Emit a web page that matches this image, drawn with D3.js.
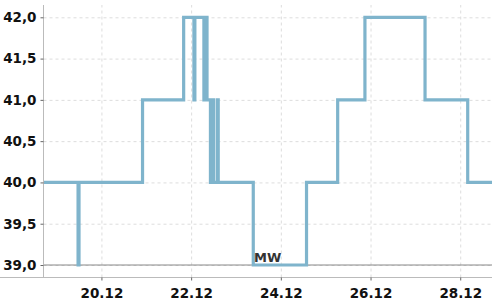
<!DOCTYPE html>
<html>
<head>
<meta charset="utf-8">
<script src="https://cdn.jsdelivr.net/npm/d3@7"></script>
<style>
  body { margin: 0; background: #fff; }
  svg { display: block; }
  .tick text { font-family: "DejaVu Sans", sans-serif; font-weight: bold; font-size: 13.5px; fill: #111; }
  .grid line { stroke: #ddd; stroke-dasharray: 3,3; }
  .grid .domain { display: none; }
</style>
</head>
<body>
<script>
// data
const times = [
  '2023-12-18T17:00', '2023-12-19T11:30', '2023-12-19T12:00', '2023-12-20T22:00',
  '2023-12-21T20:00', '2023-12-22T01:30', '2023-12-22T02:00', '2023-12-22T06:50',
  '2023-12-22T07:40', '2023-12-22T08:30', '2023-12-22T10:20', '2023-12-22T11:10',
  '2023-12-22T12:00', '2023-12-22T14:00', '2023-12-22T14:30', '2023-12-23T09:15',
  '2023-12-24T13:45', '2023-12-25T06:25', '2023-12-25T21:00', '2023-12-27T05:10',
  '2023-12-28T04:00', '2023-12-28T17:00',
];
const values = [
  40.0, 39.0, 40.0, 41.0,
  42.0, 41.0, 42.0, 41.0,
  42.0, 41.0, 40.0, 41.0,
  40.0, 41.0, 40.0, 39.0,
  40.0, 41.0, 42.0, 41.0,
  40.0, 40.0,
];
const xTickDates = ['2023-12-20', '2023-12-22', '2023-12-24', '2023-12-26', '2023-12-28'];
const yTicks = [39.0, 39.5, 40.0, 40.5, 41.0, 41.5, 42.0];
const meanValue = 39.0;
const meanLabel = 'MW';

// constants
const width = 500;
const height = 300;
const plot = { left: 43.5, right: 492, top: 5, bottom: 277.5 };

const parseTime = d3.timeParse('%Y-%m-%dT%H:%M');
const parseDay = d3.timeParse('%Y-%m-%d');
const data = times.map((t, i) => ({ date: parseTime(t), value: values[i] }));

const x = d3.scaleTime()
  .domain(d3.extent(data, (d) => d.date))
  .range([plot.left, plot.right]);
const y = d3.scaleLinear()
  .domain([39, 42])
  .range([265, 17.3]);

const svg = d3.select('body')
  .append('svg')
  .attr('width', width)
  .attr('height', height);

// dashed grid
svg.append('g')
  .attr('class', 'grid')
  .attr('transform', `translate(0, ${plot.bottom})`)
  .call(d3.axisBottom(x)
    .tickValues(xTickDates.map(parseDay))
    .tickSize(-(plot.bottom - plot.top))
    .tickFormat(''));
svg.append('g')
  .attr('class', 'grid')
  .attr('transform', `translate(${plot.left}, 0)`)
  .call(d3.axisLeft(y)
    .tickValues(yTicks)
    .tickSize(-(plot.right - plot.left))
    .tickFormat(''));

// mean line
svg.append('line')
  .attr('x1', plot.left)
  .attr('x2', plot.right)
  .attr('y1', y(meanValue))
  .attr('y2', y(meanValue))
  .attr('stroke', '#888')
  .attr('stroke-width', 1);

// the series
const line = d3.line()
  .x((d) => x(d.date))
  .y((d) => y(d.value))
  .curve(d3.curveStepAfter);
svg.append('path')
  .datum(data)
  .attr('d', line)
  .attr('fill', 'none')
  .attr('stroke', '#7fb4cc')
  .attr('stroke-width', 3.2);

svg.append('text')
  .attr('x', 254)
  .attr('y', 262)
  .attr('font-family', 'DejaVu Sans, sans-serif')
  .attr('font-weight', 'bold')
  .attr('font-size', 13)
  .attr('fill', '#333')
  .text(meanLabel);

// axes
const gBottom = svg.append('g')
  .attr('transform', `translate(0, ${plot.bottom})`)
  .call(d3.axisBottom(x)
    .tickValues(xTickDates.map(parseDay))
    .tickSize(3)
    .tickSizeOuter(0)
    .tickPadding(6)
    .tickFormat(d3.timeFormat('%d.%m')));
const gLeft = svg.append('g')
  .attr('transform', `translate(${plot.left}, 0)`)
  .call(d3.axisLeft(y)
    .tickValues(yTicks)
    .tickSize(3)
    .tickSizeOuter(0)
    .tickPadding(4)
    .tickFormat((d) => d3.format('.1f')(d).replace('.', ',')));

gBottom.select('.domain').attr('stroke', '#bbb').attr('d', `M0,0H${plot.right}`);
gLeft.select('.domain').attr('stroke', '#bbb').attr('d', `M0,${plot.top}V${plot.bottom}`);
gBottom.selectAll('.tick line').attr('stroke', '#666');
gLeft.selectAll('.tick line').attr('stroke', '#666');
gBottom.selectAll('.tick text').attr('dy', '0.85em');
</script>
</body>
</html>
